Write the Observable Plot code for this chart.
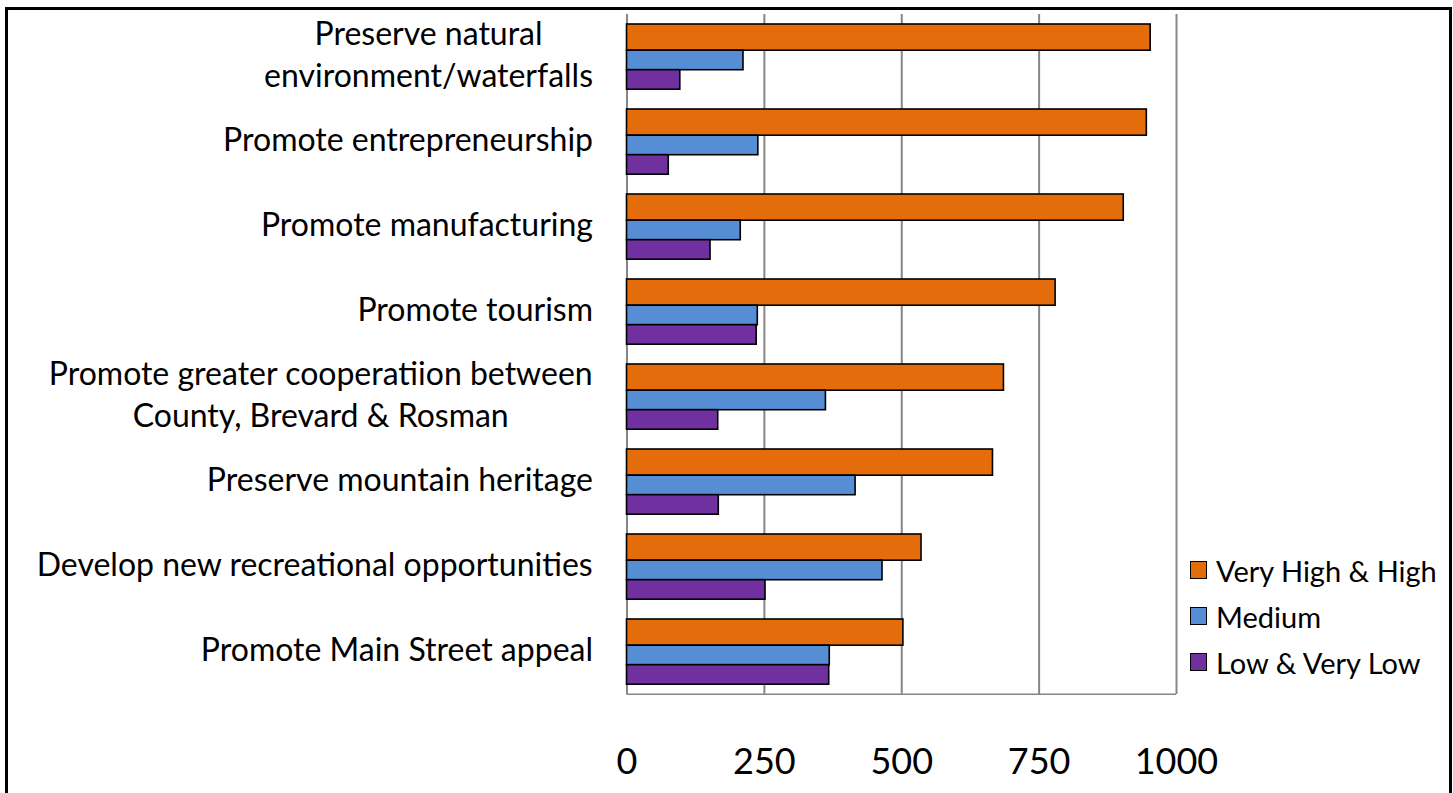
<!DOCTYPE html>
<html>
<head>
<meta charset="utf-8">
<script src="https://cdn.jsdelivr.net/npm/d3@7"></script>
<script src="https://cdn.jsdelivr.net/npm/@observablehq/plot@0.6"></script>
<style>
  html, body { margin: 0; padding: 0; background: #fff; overflow: hidden; }
  #wrap { position: relative; width: 1453px; height: 793px; font-family: Lato, "Open Sans", sans-serif; }
  #frame { position: absolute; left: 5px; top: 7px; width: 1441px; height: 900px; border: 3px solid #000; pointer-events: none; }
  #legend { position: absolute; left: 1190px; top: 547px; font-size: 29px; color: #000; }
  .item { display: flex; align-items: center; height: 46px; }
  .sw { width: 15px; height: 16px; border: 1.5px solid #000; margin-right: 9px; }
</style>
</head>
<body>
<div id="wrap">
  <div id="chart"></div>
  <div id="legend"></div>
  <div id="frame"></div>
</div>
<script>
const categories = [
  "Preserve natural environment/waterfalls",
  "Promote entrepreneurship",
  "Promote manufacturing",
  "Promote tourism",
  "Promote greater cooperatiion between County, Brevard & Rosman",
  "Preserve mountain heritage",
  "Develop new recreational opportunities",
  "Promote Main Street appeal"
];
const labelLines = [
  ["Preserve natural", "environment/waterfalls"],
  ["Promote entrepreneurship"],
  ["Promote manufacturing"],
  ["Promote tourism"],
  ["Promote greater cooperatiion between", "County, Brevard & Rosman"],
  ["Preserve mountain heritage"],
  ["Develop new recreational opportunities"],
  ["Promote Main Street appeal"]
];
const series = ["Very High & High", "Medium", "Low & Very Low"];
const veryHighHigh = [953, 946, 904, 780, 686, 666, 536, 503];
const medium = [212, 239, 207, 238, 362, 416, 465, 369];
const lowVeryLow = [97, 76, 152, 236, 166, 167, 252, 368];
const colors = ["#E46C0A", "#558ED5", "#7030A0"];
const xTicks = [0, 250, 500, 750, 1000];

const seriesValues = [veryHighHigh, medium, lowVeryLow];
const data = [];
categories.forEach((c, i) => {
  series.forEach((s, j) => data.push({category: c, series: s, value: seriesValues[j][i]}));
});

const labelFont = 32;
const labelPad = 34;
const ctx = document.createElement("canvas").getContext("2d");
ctx.font = `${labelFont}px Lato`;

const insets = {
  "Very High & High": {insetTop: 0, insetBottom: -4.2},
  "Medium": {insetTop: 4.2, insetBottom: -1.7},
  "Low & Very Low": {insetTop: 1.7, insetBottom: 0.8}
};

const marks = [
  Plot.ruleX(xTicks.slice(1), {stroke: "#868686", strokeWidth: 2}),
  Plot.ruleX([0], {stroke: "#868686", strokeWidth: 2}),
  Plot.barX([categories[categories.length - 1]], {fy: d => d, x1: 0, x2: 1000, fill: "#868686", insetTop: 84.5, insetBottom: -1})
];
series.forEach(s => {
  marks.push(Plot.barX(data.filter(d => d.series === s), {
    fy: "category", y: "series", x: "value", fill: "series",
    stroke: "#000", strokeWidth: 1.6, ...insets[s]
  }));
});
categories.forEach((c, i) => {
  const lines = labelLines[i];
  const wMax = d3.max(lines, l => ctx.measureText(l).width);
  marks.push(Plot.text([c], {
    fy: d => d, frameAnchor: "left", text: () => lines.join("\n"),
    textAnchor: "middle", dx: -(labelPad + wMax / 2), dy: -4, lineHeight: 42 / labelFont,
    fontSize: labelFont, fill: "#000"
  }));
});

const chart = Plot.plot({
  width: 1453,
  height: 793,
  marginLeft: 626.5,
  marginRight: 277,
  marginTop: 12,
  marginBottom: 97,
  style: {fontFamily: "Lato, 'Open Sans', sans-serif", fontSize: "36px", color: "#000", background: "transparent"},
  x: {domain: [0, 1000], ticks: xTicks, tickSize: 0, tickPadding: 54, tickFormat: d => String(d), label: null},
  y: {domain: series, axis: null, paddingInner: 0, paddingOuter: 0.4},
  fy: {domain: categories, axis: null, padding: 0, label: null},
  facet: {label: null},
  color: {domain: series, range: colors},
  marks
});
document.getElementById("chart").appendChild(chart);

const legend = d3.select("#legend");
series.forEach((s, j) => {
  const it = legend.append("div").attr("class", "item");
  it.append("div").attr("class", "sw").style("background", colors[j]);
  it.append("span").text(s);
});
</script>
</body>
</html>
